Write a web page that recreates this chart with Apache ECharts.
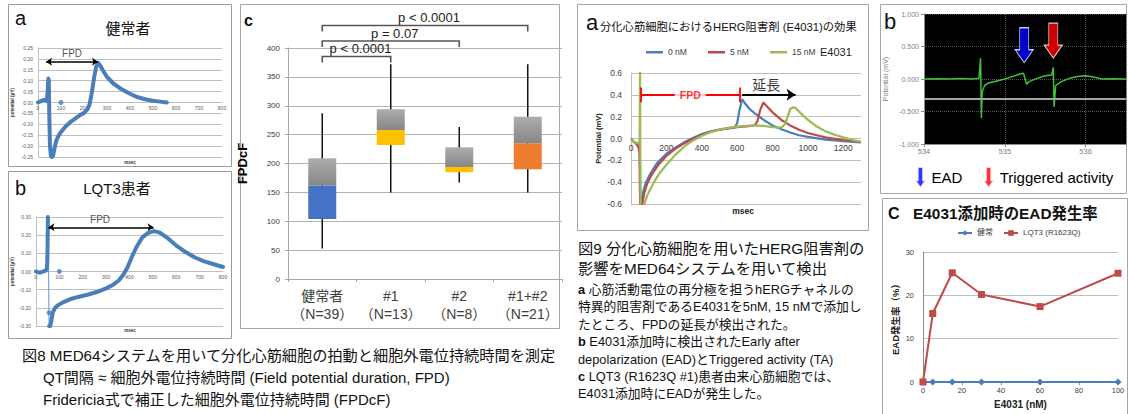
<!DOCTYPE html>
<html>
<head>
<meta charset="utf-8">
<script src="https://cdn.jsdelivr.net/npm/echarts@6/dist/echarts.min.js"></script>
<style>
  html, body { margin: 0; padding: 0; background: #fff; }
  #main { width: 1128px; height: 414px; }
</style>
</head>
<body>
<div id="main"></div>
<script>
// ---------- Fig. 8a: healthy donor field potential [msec, potential] ----------
const healthyTrace = [
  [0, 0.0], [10, 0.005], [20, 0.01], [30, 0.012], [38, 0.008], [42, 0.05], [45, 0.11], [47, 0.10],
  [49, -0.05], [52, -0.2], [56, -0.245], [60, -0.25], [65, -0.245], [70, -0.22], [78, -0.18],
  [88, -0.155], [100, -0.135], [120, -0.11], [140, -0.09], [160, -0.075], [180, -0.06], [200, -0.048],
  [214, -0.033], [224, -0.01], [234, 0.045], [244, 0.115], [253, 0.165], [261, 0.182], [270, 0.17],
  [282, 0.148], [300, 0.117], [330, 0.085], [360, 0.063], [400, 0.04], [430, 0.025], [470, 0.014],
  [500, 0.008], [530, 0.004], [560, 0.0]
];
const healthyDots = [[100, 0]];
const healthyFpd = [[35, 0.187], [261, 0.187]];
const healthyFpdLabel = [148, 0.227];

// ---------- Fig. 8b: LQT3 patient field potential ----------
const lqt3Rise = [
  [0, 0.0], [10, -0.005], [20, -0.005], [30, 0.0], [40, 0.004], [46, 0.01], [48, 0.05], [49, 0.1],
  [50, 0.2], [51, 0.3]
];
const lqt3Drop = [[51, 0.3], [56, -0.3]];
const lqt3Recovery = [
  [56, -0.3], [61, -0.3], [65, -0.275], [72, -0.225], [82, -0.2], [95, -0.185], [115, -0.17],
  [145, -0.153], [180, -0.14], [220, -0.128], [260, -0.113], [300, -0.093], [330, -0.073],
  [355, -0.048], [375, -0.015], [392, 0.025], [410, 0.08], [430, 0.135], [455, 0.188], [480, 0.213],
  [505, 0.222], [530, 0.214], [560, 0.187], [600, 0.143], [640, 0.107], [680, 0.077], [720, 0.056],
  [760, 0.04], [800, 0.025]
];
const lqt3Dots = [[56, -0.227], [100, 0]];
const lqt3Fpd = [[53, 0.243], [503, 0.243]];
const lqt3FpdLabel = [274, 0.286];

// ---------- Fig. 8c: FPDcF box plot ----------
const groupNames = ['健常者', '#1', '#2', '#1+#2'];
const groupN = [39, 13, 8, 21];
const fpdcfMin = [53, 150, 167, 150];
const fpdcfQ1 = [104, 232, 185, 190];
const fpdcfMedian = [162, 258, 194, 235];
const fpdcfQ3 = [209, 294, 228, 281];
const fpdcfMax = [287, 372, 263, 372];
const pComparisons = [[0, 1], [0, 2], [0, 3]];
const pLabels = ['p < 0.0001', 'p = 0.07', 'p < 0.0001'];

// ---------- Fig. 9a: E4031 dose traces ----------
const doseLabels = ['0 nM', '5 nM', '15 nM'];
const trace0nM = [
  [0, 0.0], [15, -0.03], [30, -0.04], [45, -0.045], [50, -0.1], [54, -0.7], [58, -0.7], [60, -0.6],
  [70, -0.48], [85, -0.4], [107, -0.33], [145, -0.23], [200, -0.14], [250, -0.085], [300, -0.035],
  [350, 0.005], [400, 0.04], [450, 0.065], [500, 0.082], [550, 0.093], [585, 0.1], [600, 0.14],
  [612, 0.25], [628, 0.36], [645, 0.32], [670, 0.27], [700, 0.23], [750, 0.17], [800, 0.12],
  [850, 0.085], [900, 0.055], [950, 0.03], [1000, 0.015], [1100, -0.01], [1200, -0.025], [1300, -0.035]
];
const trace5nM = [
  [0, 0.0], [15, -0.03], [30, -0.05], [42, -0.08], [48, -0.13], [52, -0.7], [62, -0.7], [64, -0.6],
  [75, -0.5], [90, -0.42], [110, -0.35], [150, -0.25], [200, -0.16], [250, -0.095], [300, -0.045],
  [350, -0.005], [400, 0.035], [450, 0.062], [500, 0.08], [550, 0.095], [600, 0.105], [650, 0.11],
  [700, 0.12], [715, 0.16], [730, 0.26], [748, 0.33], [765, 0.3], [800, 0.24], [850, 0.17],
  [900, 0.12], [950, 0.08], [1000, 0.05], [1050, 0.03], [1100, 0.01], [1200, -0.015], [1300, -0.03]
];
const trace15nM = [
  [0, 0.0], [15, -0.03], [30, -0.04], [45, -0.045], [49, 0.0], [51, 0.7], [54, -0.7], [74, -0.7],
  [76, -0.6], [90, -0.53], [110, -0.46], [130, -0.4], [160, -0.32], [200, -0.24], [250, -0.15],
  [300, -0.075], [350, -0.02], [400, 0.025], [450, 0.058], [500, 0.082], [550, 0.098], [600, 0.108],
  [650, 0.115], [700, 0.12], [750, 0.115], [800, 0.105], [850, 0.1], [870, 0.13], [885, 0.2],
  [900, 0.27], [915, 0.285], [930, 0.28], [960, 0.23], [1000, 0.17], [1050, 0.11], [1100, 0.065],
  [1150, 0.035], [1200, 0.01], [1250, -0.012], [1300, -0.03]
];
const fpdStartMs = 55;
const fpdEndMs = 615;
const fpdMarkMv = 0.4;
const prolongArrow = [[628, 0.4], [930, 0.4]];
const prolongLabel = [765, 0.49];

// ---------- Fig. 9b: EAD / triggered activity recording [sec, mV] ----------
const eadTrace = [
  [534, 0.0], [534.15, 0.004], [534.3, 0.0], [534.45, 0.006], [534.6, 0.0], [534.68, 0.01],
  [534.7, 0.32], [534.71, -0.6], [534.72, -0.2], [534.75, -0.1], [534.8, -0.06], [534.9, -0.03],
  [535.0, 0.0], [535.1, 0.04], [535.2, 0.08], [535.23, 0.09], [535.27, -0.08], [535.3, -0.04],
  [535.4, 0.01], [535.5, 0.05], [535.58, 0.06], [535.6, 0.18], [535.61, -0.43], [535.63, -0.1],
  [535.7, -0.04], [535.8, 0.01], [535.9, 0.04], [536.0, 0.05], [536.1, 0.03], [536.2, 0.0],
  [536.35, 0.003], [536.5, 0.0]
];
const thresholdMv = -0.3;
const eadArrowAt = [[535.24, 0.52]];
const taArrowAt = [[535.6, 0.59]];

// ---------- Fig. 9c: EAD incidence with E4031 ----------
const e4031Dose = [0, 5, 15, 30, 60, 100];
const eadHealthy = [0, 0, 0, 0, 0, 0];
const eadLqt3 = [0, 15.8, 25.2, 20.2, 17.4, 25.1];

// ---------- styling ----------
const FONT = '"Liberation Sans", "Noto Sans CJK JP", sans-serif';
const XL_BLUE = '#4a7ebb';
const XL_RED = '#be4b48';
const XL_GREEN = '#9bbb59';
const GRID_GRAY = '#bfbfbf';
const lowerBoxColors = ['#4472c4', '#ffc000', '#ffc000', '#ed7d31'];
const upperBoxFill = {
  type: 'linear', x: 0, y: 0, x2: 0, y2: 1,
  colorStops: [{ offset: 0, color: '#adadad' }, { offset: 1, color: '#868686' }]
};
const ARROW = 'path://M4.5,0L13.5,0L13.5,22L18,22L9,35L0,22L4.5,22Z';

const grids = [
  { left: 38, top: 48, width: 184, height: 109 },
  { left: 36, top: 217, width: 187, height: 109 },
  { left: 288, top: 48, width: 274, height: 231 },
  { left: 631, top: 73, width: 230, height: 131 },
  { left: 924, top: 14, width: 202, height: 130, show: true, backgroundColor: '#000', borderWidth: 0 },
  { left: 923, top: 252, width: 195, height: 130 }
];
const yRanges = { a: [-0.25, 0.25], b: [-0.3, 0.3], dose: [-0.6, 0.6] };

// move a bottom x axis up so that it runs along y = 0 of its grid
const zeroOffset = (grid, range) => -grid.height * (0 - range[0]) / (range[1] - range[0]);

const fix = (d) => (v) => (Math.abs(v) < 1e-9 ? 0 : v).toFixed(d);
const plain = (v) => String(v);

function textMark(axis, point, text, label) {
  return {
    type: 'scatter', xAxisIndex: axis, yAxisIndex: axis, data: [point], symbolSize: 1,
    itemStyle: { color: 'rgba(0,0,0,0)' }, silent: true, z: 10,
    label: Object.assign({ show: true, position: 'inside', formatter: text, fontFamily: FONT }, label)
  };
}

function gText(x, y, text, size, extra) {
  return {
    type: 'text', x: x, y: y, silent: true,
    style: Object.assign({
      text: text, fontSize: size, fontFamily: FONT, fill: '#111',
      align: 'left', verticalAlign: 'middle'
    }, extra || {})
  };
}

function frame(x, y, w, h, color) {
  return { type: 'rect', silent: true, shape: { x: x, y: y, width: w, height: h },
    style: { fill: null, stroke: color || '#a6a6a6', lineWidth: 1 } };
}

// one legend entry placed at its own spot
function legendAt(item, left, top, extra) {
  return Object.assign({ data: [item], left: left, top: top, padding: 0, selectedMode: false }, extra);
}

const waveAxisLabel = { fontSize: 5, color: '#595959', fontFamily: FONT };
const boldRich = { rich: { b: { fontWeight: 'bold', fontSize: 12.8, fontFamily: FONT } } };
const doseLegendStyle = { itemWidth: 17, itemHeight: 2.5,
  textStyle: { fontSize: 8.5, color: '#404040', fontFamily: FONT } };
const eadLegendStyle = { itemWidth: 14, itemHeight: 7,
  textStyle: { fontSize: 8, color: '#404040', fontFamily: FONT } };

const option = {
  animation: false,
  backgroundColor: '#fff',
  textStyle: { fontFamily: FONT },
  grid: grids.map(g => Object.assign({ containLabel: false, outerBoundsMode: 'none' }, g)),
  xAxis: [
    { gridIndex: 0, type: 'value', min: 0, max: 800, interval: 100, offset: zeroOffset(grids[0], yRanges.a),
      axisLine: { onZero: false, lineStyle: { color: GRID_GRAY } }, axisTick: { show: false },
      axisLabel: Object.assign({ margin: 3 }, waveAxisLabel), splitLine: { show: false } },
    { gridIndex: 1, type: 'value', min: 0, max: 800, interval: 100, offset: zeroOffset(grids[1], yRanges.b),
      axisLine: { onZero: false, lineStyle: { color: GRID_GRAY } }, axisTick: { show: false },
      axisLabel: Object.assign({ margin: 3 }, waveAxisLabel), splitLine: { show: false } },
    { gridIndex: 2, type: 'category', data: groupNames, boundaryGap: true,
      axisLine: { lineStyle: { color: '#a6a6a6' } },
      axisTick: { show: true, length: 3, interval: 0, alignWithLabel: false, lineStyle: { color: '#a6a6a6' } },
      axisLabel: { interval: 0, fontSize: 14, lineHeight: 18, color: '#404040', margin: 8, fontFamily: FONT,
        formatter: (v, i) => v + '\n（N=' + groupN[i] + '）' } },
    { gridIndex: 3, type: 'value', min: 0, max: 1300, interval: 200, offset: zeroOffset(grids[3], yRanges.dose),
      axisLine: { onZero: false, lineStyle: { color: GRID_GRAY } }, axisTick: { show: false },
      axisLabel: { fontSize: 8.5, color: '#404040', margin: 5, showMaxLabel: false, fontFamily: FONT,
        formatter: plain },
      splitLine: { show: false } },
    { gridIndex: 4, type: 'value', min: 534, max: 536.5, interval: 1,
      axisLine: { onZero: false, lineStyle: { color: '#8c8c8c' } },
      axisTick: { show: true, length: 3, lineStyle: { color: '#8c8c8c' } },
      axisLabel: { fontSize: 7.5, color: '#7f7f7f', margin: 4, showMaxLabel: false, fontFamily: FONT,
        formatter: plain },
      splitLine: { show: true, lineStyle: { color: '#5a5a5a', type: 'dotted', width: 1 } } },
    { gridIndex: 5, type: 'value', min: 0, max: 100, interval: 20,
      axisLine: { onZero: false, lineStyle: { color: '#8c8c8c' } },
      axisTick: { show: true, length: 3, lineStyle: { color: '#8c8c8c' } },
      axisLabel: { fontSize: 7.5, color: '#404040', margin: 5, fontFamily: FONT }, splitLine: { show: false },
      name: 'E4031 (nM)', nameLocation: 'middle', nameGap: 17,
      nameTextStyle: { fontSize: 10, fontWeight: 'bold', color: '#222', fontFamily: FONT } }
  ],
  yAxis: [
    { gridIndex: 0, type: 'value', min: yRanges.a[0], max: yRanges.a[1], interval: 0.05,
      axisLine: { show: true, onZero: false, lineStyle: { color: GRID_GRAY } }, axisTick: { show: false },
      axisLabel: Object.assign({ margin: 5, formatter: fix(2) }, waveAxisLabel),
      splitLine: { lineStyle: { color: GRID_GRAY } },
      name: 'potential (μV)', nameLocation: 'middle', nameGap: 23,
      nameTextStyle: { fontSize: 4.5, fontWeight: 'bold', color: '#333', fontFamily: FONT } },
    { gridIndex: 1, type: 'value', min: yRanges.b[0], max: yRanges.b[1], interval: 0.1,
      axisLine: { show: true, onZero: false, lineStyle: { color: GRID_GRAY } }, axisTick: { show: false },
      axisLabel: Object.assign({ margin: 5, formatter: fix(2) }, waveAxisLabel),
      splitLine: { lineStyle: { color: GRID_GRAY } },
      name: 'potential (μV)', nameLocation: 'middle', nameGap: 21,
      nameTextStyle: { fontSize: 4.5, fontWeight: 'bold', color: '#333', fontFamily: FONT } },
    { gridIndex: 2, type: 'value', min: 0, max: 400, interval: 50,
      axisLine: { show: true, lineStyle: { color: '#a6a6a6' } },
      axisTick: { show: true, length: 3, lineStyle: { color: '#a6a6a6' } },
      axisLabel: { fontSize: 8, color: '#404040', margin: 8, fontFamily: FONT },
      splitLine: { lineStyle: { color: '#b3b3b3' } },
      name: 'FPDcF', nameLocation: 'middle', nameGap: 39,
      nameTextStyle: { fontSize: 13, fontWeight: 'bold', color: '#000', fontFamily: FONT } },
    { gridIndex: 3, type: 'value', min: yRanges.dose[0], max: yRanges.dose[1], interval: 0.2,
      axisLine: { show: true, onZero: false, lineStyle: { color: GRID_GRAY } }, axisTick: { show: false },
      axisLabel: { fontSize: 8.5, color: '#404040', margin: 9, formatter: fix(1), fontFamily: FONT },
      splitLine: { lineStyle: { color: GRID_GRAY } },
      name: 'Potential (mV)', nameLocation: 'middle', nameGap: 29,
      nameTextStyle: { fontSize: 7.5, fontWeight: 'bold', color: '#222', fontFamily: FONT } },
    { gridIndex: 4, type: 'value', min: -1, max: 1, interval: 0.5,
      axisLine: { show: true, onZero: false, lineStyle: { color: '#8c8c8c' } },
      axisTick: { show: true, length: 3, lineStyle: { color: '#8c8c8c' } },
      axisLabel: { fontSize: 7, color: '#7f7f7f', margin: 5, formatter: fix(3), fontFamily: FONT },
      splitLine: { lineStyle: { color: '#5a5a5a', type: 'dotted' } },
      name: 'Potential (mV)', nameLocation: 'middle', nameGap: 35,
      nameTextStyle: { fontSize: 7, color: '#7f7f7f', fontFamily: FONT } },
    { gridIndex: 5, type: 'value', min: 0, max: 30, interval: 10,
      axisLine: { show: true, onZero: false, lineStyle: { color: '#8c8c8c' } }, axisTick: { show: false },
      axisLabel: { fontSize: 7.5, color: '#404040', margin: 9, fontFamily: FONT },
      splitLine: { lineStyle: { color: GRID_GRAY } },
      name: 'EAD発生率（%）', nameLocation: 'middle', nameGap: 23,
      nameTextStyle: { fontSize: 9.5, fontWeight: 'bold', color: '#222', fontFamily: FONT } }
  ],
  legend: [
    legendAt({ name: doseLabels[0], icon: 'rect' }, 646, 48, doseLegendStyle),
    legendAt({ name: doseLabels[1], icon: 'rect' }, 708, 48, doseLegendStyle),
    legendAt({ name: doseLabels[2], icon: 'rect' }, 770, 48, doseLegendStyle),
    { data: [{ name: 'EAD', icon: ARROW }, { name: 'Triggered activity', icon: ARROW }],
      left: 914, top: 166, padding: 0, itemWidth: 12, itemHeight: 21, itemGap: 20,
      textStyle: { fontSize: 15, color: '#000', fontFamily: FONT }, selectedMode: false },
    legendAt('健常', 957, 229, eadLegendStyle),
    legendAt('LQT3 (R1623Q)', 1003, 229, eadLegendStyle)
  ],
  series: [
    // --- 8a waveform ---
    { type: 'line', xAxisIndex: 0, yAxisIndex: 0, data: healthyTrace, symbol: 'none', silent: true,
      lineStyle: { color: XL_BLUE, width: 4, join: 'round', cap: 'round' }, z: 3 },
    { type: 'scatter', xAxisIndex: 0, yAxisIndex: 0, data: healthyDots, symbolSize: 5, silent: true,
      itemStyle: { color: XL_BLUE } },
    { type: 'lines', coordinateSystem: 'cartesian2d', xAxisIndex: 0, yAxisIndex: 0, silent: true,
      data: [{ coords: healthyFpd }], symbol: ['arrow', 'arrow'], symbolSize: 6,
      lineStyle: { color: '#000', width: 1.5, opacity: 1, curveness: 0 }, z: 5 },
    textMark(0, healthyFpdLabel, 'FPD', { fontSize: 10, color: '#222' }),

    // --- 8b waveform ---
    { type: 'line', xAxisIndex: 1, yAxisIndex: 1, data: lqt3Rise, symbol: 'none', silent: true,
      lineStyle: { color: XL_BLUE, width: 4, join: 'round', cap: 'round' }, z: 3 },
    { type: 'line', xAxisIndex: 1, yAxisIndex: 1, data: lqt3Drop, symbol: 'none', silent: true,
      lineStyle: { color: '#7da2d6', width: 1.2 }, z: 2 },
    { type: 'line', xAxisIndex: 1, yAxisIndex: 1, data: lqt3Recovery, symbol: 'none', silent: true,
      lineStyle: { color: XL_BLUE, width: 4, join: 'round', cap: 'round' }, z: 3 },
    { type: 'scatter', xAxisIndex: 1, yAxisIndex: 1, data: lqt3Dots, symbolSize: 5, silent: true,
      itemStyle: { color: XL_BLUE } },
    { type: 'lines', coordinateSystem: 'cartesian2d', xAxisIndex: 1, yAxisIndex: 1, silent: true,
      data: [{ coords: lqt3Fpd }], symbol: ['arrow', 'arrow'], symbolSize: 6,
      lineStyle: { color: '#000', width: 1.5, opacity: 1, curveness: 0 }, z: 5 },
    textMark(1, lqt3FpdLabel, 'FPD', { fontSize: 10, color: '#222' }),

    // --- 8c box plot: whiskers, stacked boxes, comparison brackets ---
    { type: 'custom', xAxisIndex: 2, yAxisIndex: 2, z: 1, silent: true,
      data: groupNames.map((g, i) => [i, fpdcfMin[i], fpdcfMax[i]]),
      encode: { x: 0, y: [1, 2] },
      renderItem: (params, api) => {
        const a = api.coord([api.value(0), api.value(1)]);
        const b = api.coord([api.value(0), api.value(2)]);
        return { type: 'line', shape: { x1: a[0], y1: a[1], x2: b[0], y2: b[1] },
          style: { stroke: '#111', lineWidth: 1.5 } };
      } },
    { type: 'bar', xAxisIndex: 2, yAxisIndex: 2, stack: 'box', barWidth: 28, silent: true, z: 3,
      data: fpdcfQ1, itemStyle: { color: 'rgba(0,0,0,0)' } },
    { type: 'bar', xAxisIndex: 2, yAxisIndex: 2, stack: 'box', barWidth: 28, silent: true, z: 3,
      data: fpdcfMedian.map((m, i) => ({ value: m - fpdcfQ1[i], itemStyle: { color: lowerBoxColors[i] } })) },
    { type: 'bar', xAxisIndex: 2, yAxisIndex: 2, stack: 'box', barWidth: 28, silent: true, z: 3,
      data: fpdcfQ3.map((q, i) => q - fpdcfMedian[i]), itemStyle: { color: upperBoxFill } },
    { type: 'custom', xAxisIndex: 2, yAxisIndex: 2, clip: false, silent: true, z: 5,
      data: pComparisons, encode: { x: [0, 1] },
      renderItem: (params, api) => {
        const i = params.dataIndex;
        const x1 = api.coord([api.value(0), 0])[0];
        const x2 = api.coord([api.value(1), 0])[0];
        const y = params.coordSys.y + 8.5 - 15.5 * i;
        return { type: 'group', children: [
          { type: 'polyline', shape: { points: [[x1, y + 6], [x1, y], [x2, y], [x2, y + 6]] },
            style: { stroke: '#555', lineWidth: 1.6, fill: null } },
          { type: 'text', style: { text: pLabels[i], x: (x1 + x2) / 2 + 4, y: y - 8, align: 'center',
            verticalAlign: 'middle', fontSize: 13, fontFamily: FONT, fill: '#222' } }
        ] };
      } },

    // --- 9a dose traces ---
    { type: 'line', name: doseLabels[0], xAxisIndex: 3, yAxisIndex: 3, data: trace0nM, symbol: 'none',
      silent: true, lineStyle: { color: XL_BLUE, width: 2.2 }, itemStyle: { color: XL_BLUE } },
    { type: 'line', name: doseLabels[1], xAxisIndex: 3, yAxisIndex: 3, data: trace5nM, symbol: 'none',
      silent: true, lineStyle: { color: XL_RED, width: 2.2 }, itemStyle: { color: XL_RED } },
    { type: 'line', name: doseLabels[2], xAxisIndex: 3, yAxisIndex: 3, data: trace15nM, symbol: 'none',
      silent: true, lineStyle: { color: XL_GREEN, width: 2.2 }, itemStyle: { color: XL_GREEN } },
    { type: 'lines', coordinateSystem: 'cartesian2d', xAxisIndex: 3, yAxisIndex: 3, silent: true, z: 6,
      data: [
        { coords: [[fpdStartMs, fpdMarkMv], [fpdEndMs, fpdMarkMv]] },
        { coords: [[fpdStartMs, fpdMarkMv - 0.068], [fpdStartMs, fpdMarkMv + 0.068]] },
        { coords: [[fpdEndMs, fpdMarkMv - 0.068], [fpdEndMs, fpdMarkMv + 0.068]] }
      ],
      symbol: 'none', lineStyle: { color: '#ff0000', width: 1.8, opacity: 1, curveness: 0 } },
    textMark(3, [(fpdStartMs + fpdEndMs) / 2, fpdMarkMv], 'FPD',
      { fontSize: 10.5, fontWeight: 'bold', color: '#ff0000', backgroundColor: '#fff', padding: [1, 5] }),
    { type: 'lines', coordinateSystem: 'cartesian2d', xAxisIndex: 3, yAxisIndex: 3, silent: true, z: 6,
      data: [{ coords: prolongArrow }], symbol: ['none', 'arrow'], symbolSize: 9,
      lineStyle: { color: '#000', width: 2, opacity: 1, curveness: 0 } },
    textMark(3, prolongLabel, '延長', { fontSize: 14, color: '#000' }),

    // --- 9b recording ---
    { type: 'line', xAxisIndex: 4, yAxisIndex: 4, data: eadTrace, symbol: 'none', silent: true,
      lineStyle: { color: '#3ec23e', width: 1.5 },
      markLine: { silent: true, symbol: 'none', label: { show: false },
        lineStyle: { color: '#a3a3a3', width: 2, type: 'solid' }, data: [{ yAxis: thresholdMv }] } },
    { type: 'scatter', name: 'EAD', xAxisIndex: 4, yAxisIndex: 4, data: eadArrowAt, symbol: ARROW,
      symbolSize: [18, 35], silent: true, z: 6,
      itemStyle: { color: '#0000ff', borderColor: '#fff', borderWidth: 1 } },
    { type: 'scatter', name: 'Triggered activity', xAxisIndex: 4, yAxisIndex: 4, data: taArrowAt, symbol: ARROW,
      symbolSize: [18, 35], silent: true, z: 6,
      itemStyle: { color: '#ff0000', borderColor: '#fff', borderWidth: 1 } },

    // --- 9c EAD incidence ---
    { type: 'line', name: '健常', xAxisIndex: 5, yAxisIndex: 5, silent: true,
      data: e4031Dose.map((d, i) => [d, eadHealthy[i]]), symbol: 'diamond', symbolSize: 7,
      lineStyle: { color: XL_BLUE, width: 2 }, itemStyle: { color: XL_BLUE } },
    { type: 'line', name: 'LQT3 (R1623Q)', xAxisIndex: 5, yAxisIndex: 5, silent: true,
      data: e4031Dose.map((d, i) => [d, eadLqt3[i]]), symbol: 'rect', symbolSize: 7,
      lineStyle: { color: XL_RED, width: 2 }, itemStyle: { color: XL_RED } }
  ],
  graphic: { elements: [
    // panel frames
    frame(8.5, 4.5, 223, 162, '#9a9a9a'),
    frame(8.5, 171.5, 223, 167, '#9a9a9a'),
    frame(240.5, 4.5, 319, 324),
    frame(577.5, 4.5, 291, 226),
    frame(880.5, 4.5, 246, 189),
    frame(882.5, 198.5, 245, 216),
    // 8a / 8b headings
    gText(15, 18, 'a', 20),
    gText(128, 28, '健常者', 15, { align: 'center' }),
    gText(130, 162, 'msec', 4.5, { align: 'center', fontWeight: 'bold', fill: '#333' }),
    gText(15, 188, 'b', 20),
    gText(117, 188, 'LQT3患者', 15, { align: 'center' }),
    gText(130, 330, 'msec', 4.5, { align: 'center', fontWeight: 'bold', fill: '#333' }),
    // 8c heading
    gText(244, 20, 'c', 16, { fontWeight: 'bold' }),
    // 9a headings
    gText(586, 22, 'a', 22),
    gText(600, 27, '分化心筋細胞におけるHERG阻害剤 (E4031)の効果', 11.3),
    gText(820, 52, 'E4031', 11, { fill: '#222' }),
    gText(743, 211, 'msec', 8.5, { align: 'center', fontWeight: 'bold', fill: '#222' }),
    // 9b / 9c headings
    gText(884, 21, 'b', 22),
    gText(888, 213, 'C', 16, { fontWeight: 'bold' }),
    gText(913, 213, 'E4031添加時のEAD発生率', 15.4, { fontWeight: 'bold' }),
    // Fig. 8 caption
    gText(22, 355, '図8 MED64システムを用いて分化心筋細胞の拍動と細胞外電位持続時間を測定', 15.2),
    gText(43, 377, 'QT間隔 ≈ 細胞外電位持続時間 (Field potential duration, FPD)', 15),
    gText(43, 399, 'Fridericia式で補正した細胞外電位持続時間 (FPDcF)', 15),
    // Fig. 9 caption
    gText(578, 248, '図9 分化心筋細胞を用いたHERG阻害剤の', 15.3),
    gText(578, 268, '影響をMED64システムを用いて検出', 15.3),
    gText(578, 289, '{b|a} 心筋活動電位の再分極を担うhERGチャネルの', 12.8, boldRich),
    gText(578, 306.5, '特異的阻害剤であるE4031を5nM, 15 nMで添加し', 12.8),
    gText(578, 324, 'たところ、FPDの延長が検出された。', 12.8),
    gText(578, 341.5, '{b|b} E4031添加時に検出されたEarly after', 12.8, boldRich),
    gText(578, 359, 'depolarization (EAD)とTriggered activity (TA)', 12.8),
    gText(578, 376.5, '{b|c} LQT3 (R1623Q #1)患者由来心筋細胞では、', 12.8, boldRich),
    gText(578, 393.5, 'E4031添加時にEADが発生した。', 12.8)
  ] }
};

const chart = echarts.init(document.getElementById('main'), null, { renderer: 'svg', width: 1128, height: 414 });
chart.setOption(option);
</script>
</body>
</html>
